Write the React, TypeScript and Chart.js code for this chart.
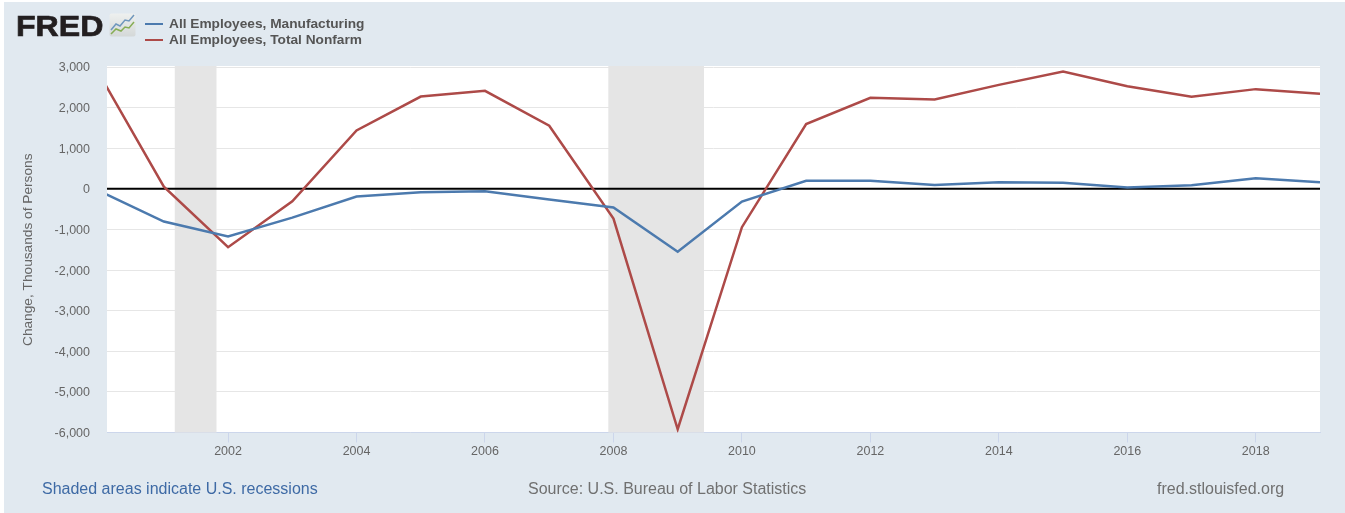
import React, { useEffect, useRef } from "react";
import { Chart, registerables } from "chart.js";

Chart.register(...registerables);

const years = [2000, 2001, 2002, 2003, 2004, 2005, 2006, 2007, 2008, 2009, 2010, 2011, 2012, 2013, 2014, 2015, 2016, 2017, 2018, 2019];
const manufacturing = [-57, -806, -1175, -710, -190, -85, -60, -265, -460, -1550, -315, 200, 200, 95, 160, 150, 30, 90, 258, 165];
const nonfarm = [2812, 55, -1437, -305, 1437, 2272, 2412, 1553, -732, -5920, -945, 1595, 2240, 2200, 2560, 2887, 2528, 2265, 2455, 2340];
const xTicks = [2002, 2004, 2006, 2008, 2010, 2012, 2014, 2016, 2018];
const recessions = [[2001.17, 2001.82], [2007.92, 2009.41]];
const seriesNames = ["All Employees, Manufacturing", "All Employees, Total Nonfarm"];
const seriesColors = ["#4c7aae", "#ad4a48"];
const yTitle = "Change, Thousands of Persons";
const FONT = "'Liberation Sans', Arial, sans-serif";

const plotDecor = {
  id: "plotDecor",
  beforeDraw(chart: any) {
    const { ctx, chartArea: a } = chart;
    ctx.save();
    ctx.fillStyle = "#ffffff";
    ctx.fillRect(a.left, a.top - 1, a.right - a.left, a.bottom - a.top + 1);
    ctx.restore();
  },
  beforeDatasetsDraw(chart: any) {
    const { ctx, chartArea: a, scales } = chart;
    ctx.save();
    ctx.fillStyle = "#e5e5e5";
    for (const [from, to] of recessions) {
      const x0 = scales.x.getPixelForValue(from);
      const x1 = scales.x.getPixelForValue(to);
      ctx.fillRect(x0, a.top - 1, x1 - x0, a.bottom - a.top + 1);
    }
    const y0 = scales.y.getPixelForValue(0);
    ctx.strokeStyle = "#000000";
    ctx.lineWidth = 2;
    ctx.beginPath();
    ctx.moveTo(a.left, y0);
    ctx.lineTo(a.right, y0);
    ctx.stroke();
    ctx.restore();
  },
};

const abs = (left: number, top: number, extra: React.CSSProperties = {}): React.CSSProperties => ({
  position: "absolute",
  left,
  top,
  whiteSpace: "nowrap",
  fontFamily: FONT,
  lineHeight: 1,
  ...extra,
});

export default function App() {
  const ref = useRef<HTMLCanvasElement>(null);

  useEffect(() => {
    const chart = new Chart(ref.current!, {
      type: "line",
      data: {
        datasets: [manufacturing, nonfarm].map((vals, i) => ({
          label: seriesNames[i],
          data: vals.map((y, k) => ({ x: years[k], y })),
          borderColor: seriesColors[i],
          backgroundColor: seriesColors[i],
          borderWidth: 2.5,
          pointRadius: 0,
          tension: 0,
          clip: 0,
        })),
      },
      options: {
        animation: false,
        responsive: false,
        layout: { padding: { left: 0, top: 67, right: 25, bottom: 0 } },
        plugins: { legend: { display: false }, tooltip: { enabled: false } },
        scales: {
          x: {
            type: "linear",
            min: 2000.115,
            max: 2019,
            afterFit(s: any) {
              s.height = 80.5;
            },
            afterBuildTicks(s: any) {
              s.ticks = xTicks.map((value) => ({ value }));
            },
            grid: { drawOnChartArea: false, drawTicks: true, tickLength: 10, color: "#ccd6eb" },
            border: { color: "#ccd6eb", width: 1 },
            ticks: {
              color: "#666666",
              font: { family: FONT, size: 12.5 },
              padding: 2,
              maxRotation: 0,
              autoSkip: false,
              callback: (v: any) => String(v),
            },
          },
          y: {
            min: -6000,
            max: 3000,
            afterFit(s: any) {
              s.width = 107;
            },
            grid: { color: "#e6e6e6", lineWidth: 1, drawTicks: false },
            border: { display: false },
            ticks: {
              stepSize: 1000,
              color: "#666666",
              font: { family: FONT, size: 12.5 },
              padding: 17,
              labelOffset: 1,
              callback: (v: any) => Number(v).toLocaleString("en-US"),
            },
            title: {
              display: true,
              text: yTitle,
              color: "#666666",
              font: { family: FONT, size: 13.7 },
              padding: { top: 20, bottom: 0 },
            },
          },
        },
      },
      plugins: [plotDecor],
    } as any);
    return () => chart.destroy();
  }, []);

  return (
    <div style={{ position: "absolute", left: 0, top: 0, width: 1345, height: 513, overflow: "hidden", background: "#ffffff" }}>
      <div style={{ position: "absolute", left: 4, top: 2, right: 0, bottom: 0, background: "#e1e9f0" }} />
      <canvas ref={ref} width={1345} height={513} style={{ position: "absolute", left: 0, top: 0, width: 1345, height: 513 }} />
      <div style={abs(15.5, 10.6, { fontSize: 30, fontWeight: 700, color: "#231f20", WebkitTextStroke: "0.7px #231f20", transform: "scaleX(1.07)", transformOrigin: "left center" })}>FRED</div>
      <svg style={{ position: "absolute", left: 109, top: 13 }} width={27} height={24} viewBox="0 0 27 24">
        <defs>
          <linearGradient id="fredIcon" x1="0" y1="0" x2="0" y2="1">
            <stop offset="0" stopColor="#eef0ef" />
            <stop offset="1" stopColor="#d4d8d8" />
          </linearGradient>
        </defs>
        <rect x="0.5" y="0.5" width="26" height="23" rx="2" fill="url(#fredIcon)" />
        <polyline points="2,17 7,11 11,13 16,7 20,8 25,2" fill="none" stroke="#6f97bd" strokeWidth="1.5" />
        <polyline points="2,21 7,16 12,18 16,14 20,15 25,9" fill="none" stroke="#86ad55" strokeWidth="1.5" />
      </svg>
      {seriesNames.map((name, i) => (
        <React.Fragment key={name}>
          <div style={{ position: "absolute", left: 145, top: 23 + i * 16, width: 18, height: 2, background: seriesColors[i] }} />
          <div style={abs(169, 17 + i * 16, { fontSize: 13.7, fontWeight: 700, color: "#555555" })}>{name}</div>
        </React.Fragment>
      ))}
      <div style={abs(42, 481, { fontSize: 16, color: "#3e6aa5" })}>Shaded areas indicate U.S. recessions</div>
      <div style={abs(528, 481, { fontSize: 16, color: "#707070" })}>Source: U.S. Bureau of Labor Statistics</div>
      <div style={abs(1157, 481, { fontSize: 16, color: "#707070" })}>fred.stlouisfed.org</div>
    </div>
  );
}
